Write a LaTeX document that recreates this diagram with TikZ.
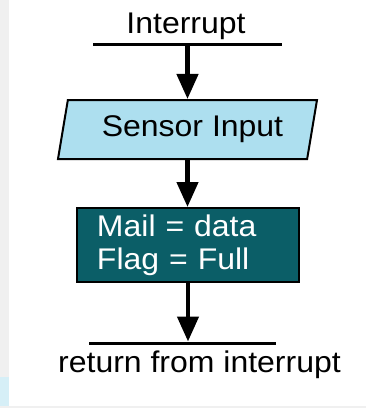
\documentclass[tikz,border=0pt]{standalone}
\usepackage{fontspec}
\setmainfont{Liberation Sans}[FakeStretch=1.07]
\usepackage{tikz}
\usetikzlibrary{arrows.meta,shapes.geometric}

\definecolor{inputblue}{RGB}{173,223,239}
\definecolor{boxteal}{RGB}{11,94,103}

\begin{document}
\begin{tikzpicture}[x=1bp,y=-1bp,
	flow/.style={line width=4.5bp,-{Triangle[length=25bp,width=21bp]}},
	bar/.style={line width=3bp},
	txt/.style={font=\fontsize{30}{33}\selectfont,inner sep=0pt,anchor=base}]
	% page and frame edges
	\fill[gray!12] (0,0) rectangle (366,408);
	\fill[inputblue!50] (0,377) rectangle (9,406);
	\fill[white] (9,0) rectangle (366,406);
	\useasboundingbox (0,0) rectangle (366,408);

	\node [txt](INT) at (186,33) {Interrupt};
	\coordinate (L1) at (93,44);
	\coordinate (R1) at (282,44);
	\coordinate (T1) at (187.5,44);

	\node [draw,line width=2bp,fill=inputblue,trapezium,trapezium left angle=70,
		trapezium right angle=110,trapezium stretches body,minimum width=259bp,
		minimum height=59bp,inner sep=0pt,font=\fontsize{30}{33}\selectfont]
		(SENS) at (187.5,129.5) {\hspace*{10bp}Sensor Input};

	\node [draw,line width=2bp,fill=boxteal,text=white,minimum height=74bp,
		text width=182bp,inner xsep=20bp,inner ysep=0pt,align=left,
		font=\fontsize{30}{33}\selectfont]
		(MAIL) at (188,245) {Mail = data\\Flag = Full};

	\coordinate (L2) at (89,343);
	\coordinate (R2) at (276,343);
	\node [txt](RET) at (199.5,372) {return from interrupt};

	\draw [bar] (L1) to (R1);
	\draw [bar] (L2) to (R2);
	\draw [flow] (T1) to (SENS.north -| T1);
	\draw [flow] (SENS.south -| T1) to (MAIL.north -| T1);
	\draw [flow] (MAIL.south) to ([yshift=1.5bp]MAIL.south |- L2);
\end{tikzpicture}
\end{document}
